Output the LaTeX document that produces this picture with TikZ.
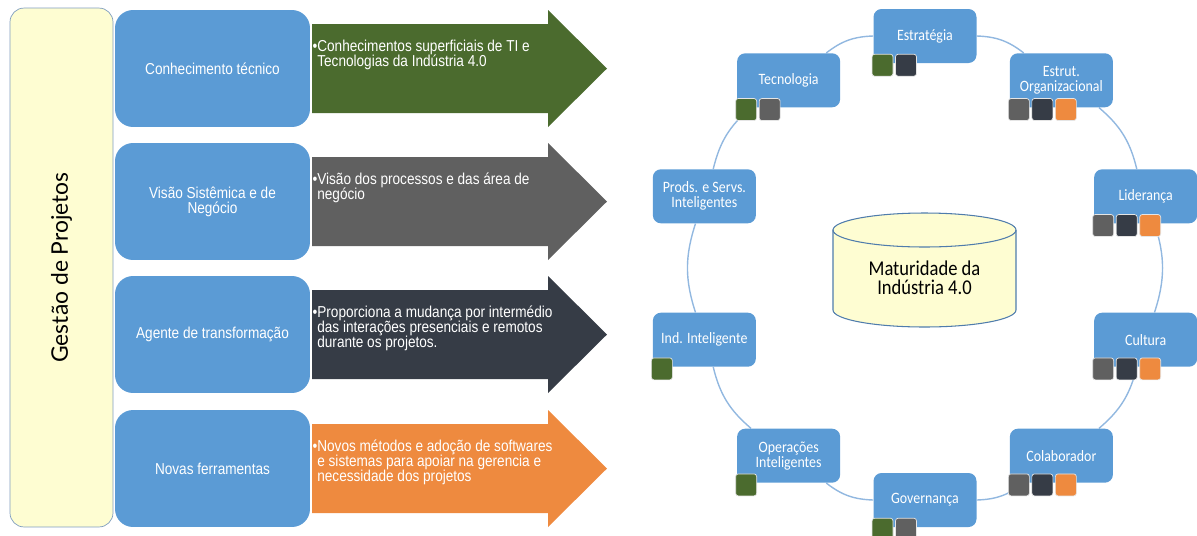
\documentclass[tikz,border=0pt]{standalone}
\usepackage{fontspec}
\setmainfont{Liberation Sans}[FakeStretch=0.86]
\newfontfamily\calfont{Carlito}[FakeStretch=0.88]
\newfontfamily\gpfont{Lato}
\usetikzlibrary{backgrounds}
\definecolor{blu}{HTML}{5B9BD5}
\definecolor{yel}{HTML}{FEFDD2}
\definecolor{gpline}{HTML}{7F9DBF}
\definecolor{cylline}{HTML}{4F7CAC}
\definecolor{grn}{HTML}{4B6B2E}
\definecolor{gry}{HTML}{606060}
\definecolor{drk}{HTML}{363C46}
\definecolor{org}{HTML}{EE8A3F}
\definecolor{ringc}{HTML}{92B8E0}
\begin{document}
\begin{tikzpicture}[x=0.02cm,y=-0.02cm,
  comp/.style={fill=blu,rounded corners=0.36cm,minimum width=3.9cm,minimum height=2.34cm,
    text=white,align=center,font=\fontsize{9}{8.5}\selectfont},
  arrtxt/.style={anchor=north west,text=white,align=left,inner sep=0pt,font=\fontsize{9}{8.5}\selectfont},
  part/.style={fill=blu,rounded corners=0.16cm,minimum width=2.06cm,minimum height=1.08cm,
    text=white,align=center,font=\calfont\fontsize{9}{8.5}\selectfont},
  sq/.style={draw=white!80!gray,line width=0.4pt,rounded corners=1.5pt,minimum width=0.42cm,
    minimum height=0.44cm,inner sep=0pt,anchor=north west},
  ring/.style={draw=ringc,line width=0.8pt}]
\useasboundingbox (0,0) rectangle (1197,535);

% left: gestao de projetos
\node[draw=gpline,fill=yel,rounded corners=0.28cm,rotate=90,minimum width=10.38cm,minimum height=2.06cm,
  font=\gpfont\fontsize{13}{15}\selectfont] (gp) at (61.5,267.5) {Gestão de Projetos};
\foreach \y/\c/\lab/\txt [count=\r] in {
  68.5/grn/{Conhecimento técnico}/{Conhecimentos superficiais de TI e\\Tecnologias da Indústria 4.0},
  201.5/gry/{Visão Sistêmica e de\\Negócio}/{Visão dos processos e das área de\\negócio},
  334.5/drk/{Agente de transformação}/{Proporciona a mudança por intermédio\\das interações presenciais e remotos\\durante os projetos.},
  468.5/org/{Novas ferramentas}/{Novos métodos e adoção de softwares\\e sistemas para apoiar na gerencia e\\necessidade dos projetos}}
{
  \fill[\c] (312,\y-44.5) -- (548,\y-44.5) -- (548,\y-58.5) -- (607,\y)
    -- (548,\y+58.5) -- (548,\y+44.5) -- (312,\y+44.5) -- cycle;
  \node[comp] (comp\r) at (212.5,\y) {\lab};
  \node[arrtxt] (txt\r) at (317,\y-29) {\llap{\textbullet}\txt};
}

% right: maturidade
\filldraw[draw=cylline,fill=yel,line width=0.6pt] (833,230) -- (833,310)
  arc[start angle=180,end angle=360,x radius=1.83cm,y radius=0.34cm] -- (1016,230)
  arc[start angle=0,end angle=180,x radius=1.83cm,y radius=0.34cm] -- cycle;
\draw[draw=cylline,line width=0.6pt] (833,230) arc[start angle=180,end angle=360,x radius=1.83cm,y radius=0.34cm];
\node[font=\calfont\fontsize{12}{11}\selectfont,align=center] (mat) at (924.5,277.5) {Maturidade da\\Indústria 4.0};
\foreach \t [count=\i from 0] in {Estratégia,{Estrut.\\Organizacional},Liderança,Cultura,Colaborador,
  Governança,{Operações\\Inteligentes},{Ind. Inteligente},{Prods. e Servs.\\Inteligentes},Tecnologia}
  \node[part] (p\i) at ({925+232*cos(90-36*\i)},{268-232*sin(90-36*\i)}) {\t};
\foreach \i/\cols in {0/{grn,drk},1/{gry,drk,org},2/{gry,drk,org},3/{gry,drk,org},4/{gry,drk,org},
  5/{grn,gry},6/grn,7/grn,9/{grn,gry}}
  \foreach \c [count=\k from 0] in \cols
    \node[sq,fill=\c] (p\i s\k) at ([xshift={-0.03cm+\k*0.47cm},yshift=0.19cm]p\i.south west) {};
\begin{scope}[on background layer]
\foreach \i [evaluate=\i as \j using {int(mod(\i+1,10))}] in {0,...,9}
  \draw[ring] (p\i) to[bend left=18] (p\j);
\end{scope}
\end{tikzpicture}
\end{document}
